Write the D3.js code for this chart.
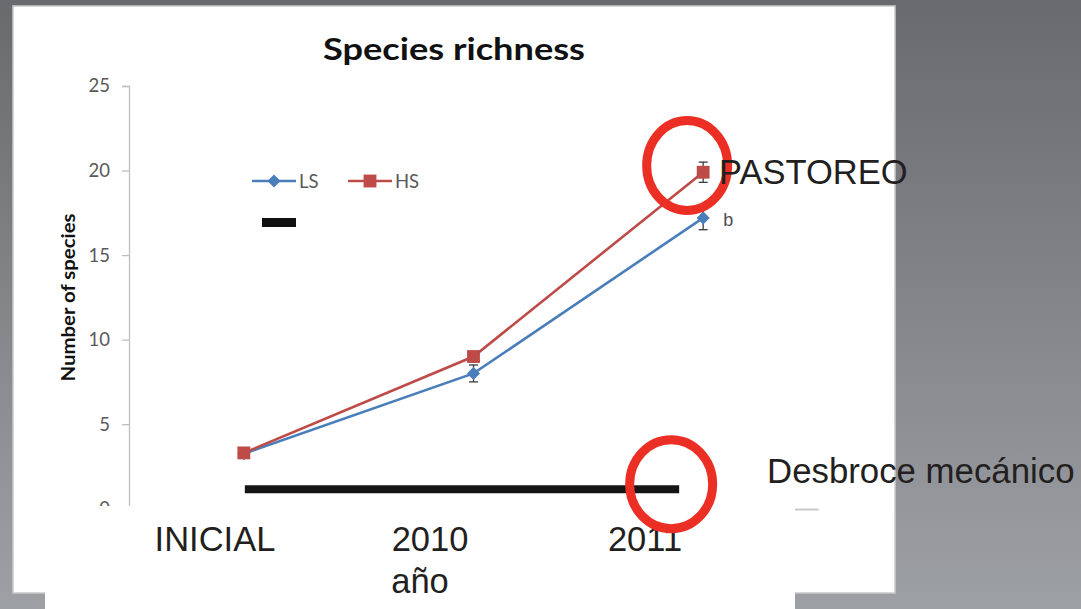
<!DOCTYPE html>
<html><head><meta charset="utf-8">
<script src="https://cdn.jsdelivr.net/npm/d3@7"></script>
<style>html,body{margin:0;padding:0;overflow:hidden;background:#888}</style>
</head><body>
<svg id="chart" width="1081" height="609"></svg>
<script>
// ---- data ----
const categories = ["INICIAL", "2010", "2011"];
const seriesNames = ["LS", "HS"];
const lsValues = [3.25, 8.0, 17.2];
const hsValues = [3.3, 9.0, 19.9];
const lsErrors = [0.1, 0.5, 0.7];
const hsErrors = [0.1, 0.3, 0.6];
const yTicks = [0, 5, 10, 15, 20, 25];
const xLabels = ["INICIAL", "2010", "2011"];
const chartTitle = "Species richness";
const yTitle = "Number of species";
const axisName = "año";
const annotations = ["PASTOREO", "Desbroce mecánico"];
const sigLetter = "b";

const svg = d3.select("#chart");
const W = 1081, H = 609;

// background gradient
const defs = svg.append("defs");
const g = defs.append("linearGradient").attr("id","bg").attr("x1",0).attr("y1",0).attr("x2",0).attr("y2",1);
g.append("stop").attr("offset","0%").attr("stop-color","#696a6e");
g.append("stop").attr("offset","100%").attr("stop-color","#9da0a5");
svg.append("rect").attr("width",W).attr("height",H).attr("fill","url(#bg)");

// white chart panel
svg.append("rect").attr("x",13).attr("y",6).attr("width",882).attr("height",587)
  .attr("fill","#fff").attr("stroke","#c9cacc").attr("stroke-width",1.5);

// scales
const x = d3.scalePoint().domain(categories).range([129, 818]).padding(0.5);
const y = d3.scaleLinear().domain([0, 25]).range([508.7, 86]);

const chartFont = "Lato, 'Open Sans', sans-serif";
const slideFont = "'Liberation Sans', Arial, sans-serif";

// y axis
const yAxis = svg.append("g").attr("transform","translate(129,0)")
  .call(d3.axisLeft(y).tickValues(yTicks).tickSize(7).tickPadding(12));
yAxis.select(".domain").attr("stroke","#bfbfbf").attr("stroke-width",1.3);
yAxis.selectAll(".tick line").attr("stroke","#bfbfbf").attr("stroke-width",1.3);
yAxis.selectAll(".tick text").attr("fill","#595959").attr("font-family",chartFont).attr("font-size",18.5);

// x axis line
const xAxis = svg.append("g").attr("transform","translate(0,509)")
  .call(d3.axisBottom(x).tickSize(0).tickFormat(""));
xAxis.select(".domain").attr("stroke","#c8c8c8").attr("stroke-width",2);

// title
svg.append("text").attr("x",454).attr("y",60).attr("text-anchor","middle")
  .attr("font-family",chartFont).attr("font-weight","bold").attr("font-size",31)
  .attr("textLength",262).attr("lengthAdjust","spacingAndGlyphs")
  .attr("fill","#111").text(chartTitle);

// y title
svg.append("text").attr("transform","translate(75,297.5) rotate(-90)").attr("text-anchor","middle")
  .attr("font-family",chartFont).attr("font-weight","bold").attr("font-size",18)
  .attr("textLength",168).attr("lengthAdjust","spacingAndGlyphs")
  .attr("fill","#111").text(yTitle);

// series
const colors = {LS:"#4a7ebb", HS:"#be4b48"};
const series = [
  {name: seriesNames[0], values: lsValues, errors: lsErrors},
  {name: seriesNames[1], values: hsValues, errors: hsErrors}
];
const line = d3.line().x((d,i)=>x(categories[i])).y(d=>y(d));
series.forEach(s => {
  svg.append("path").attr("d", line(s.values)).attr("fill","none")
    .attr("stroke", colors[s.name]).attr("stroke-width",2.6);
});
// error bars (under markers)
series.forEach(s => {
  s.values.forEach((v,i) => {
    const cx = x(categories[i]);
    const e = s.errors[i];
    const eg = svg.append("g").attr("stroke","#3a3a3a").attr("stroke-width",1.3);
    eg.append("line").attr("x1",cx).attr("x2",cx).attr("y1",y(v-e)).attr("y2",y(v+e));
    [v-e, v+e].forEach(t => eg.append("line").attr("x1",cx-4.5).attr("x2",cx+4.5).attr("y1",y(t)).attr("y2",y(t)));
  });
});
const symDiamond = d3.symbol().type(d3.symbolDiamond2).size(110);
const symSquare = d3.symbol().type(d3.symbolSquare).size(165);
series.forEach(s => {
  const gm = svg.append("g");
  s.values.forEach((v,i) => {
    gm.append("path").attr("d", s.name === "LS" ? symDiamond() : symSquare())
      .attr("transform",`translate(${x(categories[i])},${y(v)})`)
      .attr("fill", colors[s.name]);
  });
});

// significance letter
svg.append("text").attr("x", x("2011")+20).attr("y", y(lsValues[2]) + 8)
  .attr("font-family",slideFont).attr("font-size",18).attr("fill","#4d4d4d").text(sigLetter);

// legend
const legend = [
  {name: seriesNames[0], x0: 252},
  {name: seriesNames[1], x0: 348}
];
legend.forEach(l => {
  svg.append("line").attr("x1",l.x0).attr("x2",l.x0+44).attr("y1",181).attr("y2",181)
    .attr("stroke",colors[l.name]).attr("stroke-width",2.6);
  svg.append("path").attr("d", l.name==="LS" ? symDiamond() : symSquare())
    .attr("transform",`translate(${l.x0+22},181)`).attr("fill",colors[l.name]);
  svg.append("text").attr("x",l.x0+47).attr("y",187.5).attr("font-family",chartFont)
    .attr("font-size",18.5).attr("fill","#595959").text(l.name);
});

// short black dash under legend
svg.append("rect").attr("x",262).attr("y",218).attr("width",34).attr("height",9).attr("fill","#111");

// second white panel covering the bottom
svg.append("rect").attr("x",45).attr("y",506).attr("width",750).attr("height",103).attr("fill","#fff");

// thick black line (Desbroce period)
svg.append("line").attr("x1",x("INICIAL")+1).attr("x2",x("2011")-24)
  .attr("y1",y(1.15)).attr("y2",y(1.15)).attr("stroke","#151515").attr("stroke-width",8);

// x labels (slide text)
const xl = d3.scalePoint().domain(xLabels).range([215, 645]);
xLabels.forEach(lbl => {
  svg.append("text").attr("x", xl(lbl)).attr("y",551).attr("text-anchor","middle")
    .attr("font-family",slideFont).attr("font-size",34.5).attr("fill","#231f20").text(lbl);
});
svg.append("text").attr("x",420).attr("y",593).attr("text-anchor","middle")
  .attr("font-family",slideFont).attr("font-size",34.5).attr("fill","#231f20").text(axisName);

// red circles
const circles = [
  {cx: x("2011")-16, cy: y(20.3), rx: 40.5, ry: 45},
  {cx: x("2011")-32, cy: y(1.45), rx: 41.5, ry: 44.5}
];
circles.forEach(c => {
  svg.append("ellipse").attr("cx",c.cx).attr("cy",c.cy).attr("rx",c.rx).attr("ry",c.ry)
    .attr("fill","none").attr("stroke","#ec2f25").attr("stroke-width",9);
});

// annotation texts
svg.append("text").attr("x",719).attr("y",184).attr("font-family",slideFont).attr("font-size",34.5)
  .attr("fill","#231f20").text(annotations[0]);
svg.append("text").attr("x",767).attr("y",483).attr("font-family",slideFont).attr("font-size",34.8)
  .attr("fill","#231f20").text(annotations[1]);
</script>
</body></html>
